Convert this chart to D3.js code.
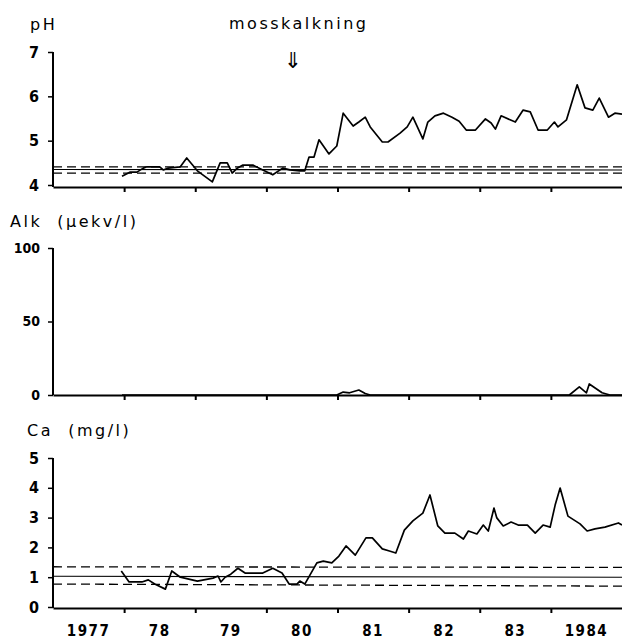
<!DOCTYPE html>
<html><head><meta charset="utf-8">
<script src="https://cdn.jsdelivr.net/npm/d3@7"></script>
<style>body{margin:0;background:#fff}svg{display:block}text{white-space:pre}</style>
</head><body>
<svg id="c" width="622" height="640"></svg>
<script>
// ---- data ----
const yearTicks = [1978, 1979, 1980, 1981, 1982, 1983, 1984];
const yearLabelPos = [1977.5, 1978.5, 1979.5, 1980.5, 1981.5, 1982.5, 1983.5, 1984.5];
const yearLabels = ["1977", "78", "79", "80", "81", "82", "83", "1984"];

const phTicks = [4, 5, 6, 7];
const alkTicks = [0, 50, 100];
const caTicks = [0, 1, 2, 3, 4, 5];

const phDates = [1977.97,1978.08,1978.18,1978.27,1978.32,1978.50,1978.55,1978.62,1978.79,1978.88,
  1979.03,1979.24,1979.35,1979.45,1979.52,1979.59,1979.67,1979.81,1979.95,1980.09,
  1980.23,1980.33,1980.47,1980.54,1980.60,1980.67,1980.74,1980.88,1980.99,1981.08,
  1981.22,1981.30,1981.39,1981.46,1981.63,1981.71,1981.88,1981.98,1982.06,1982.20,
  1982.27,1982.37,1982.49,1982.61,1982.71,1982.81,1982.94,1983.08,1983.16,1983.22,
  1983.30,1983.50,1983.61,1983.71,1983.82,1983.95,1984.05,1984.10,1984.22,1984.37,
  1984.48,1984.59,1984.68,1984.81,1984.90,1985.00];
const phValues = [4.20,4.29,4.29,4.38,4.41,4.41,4.34,4.38,4.41,4.61,
  4.32,4.07,4.50,4.50,4.27,4.38,4.45,4.45,4.34,4.23,
  4.38,4.34,4.32,4.32,4.63,4.63,5.02,4.70,4.88,5.62,
  5.33,5.42,5.53,5.31,4.97,4.97,5.17,5.31,5.53,5.04,
  5.42,5.56,5.62,5.53,5.44,5.24,5.24,5.49,5.40,5.26,
  5.56,5.42,5.69,5.65,5.24,5.24,5.42,5.31,5.47,6.26,
  5.74,5.69,5.96,5.53,5.62,5.60];
const phRefUpper = [4.41, 4.41];
const phRefMid = [4.35, 4.34];
const phRefLower = [4.27, 4.27];

const alkDates = [1977.97,1978.5,1979.0,1979.5,1980.0,1980.5,1980.99,1981.08,1981.17,1981.30,1981.39,1981.46,
  1982.0,1982.5,1983.0,1983.5,1984.0,1984.26,1984.40,1984.50,1984.54,1984.72,1984.83,1985.0];
const alkValues = [0,0,0,0,0,0,0,2.0,1.5,3.4,1.0,0,
  0,0,0,0,0,0,5.5,1.5,7.5,1.5,0,0];

const caDates = [1977.96,1978.07,1978.18,1978.25,1978.34,1978.43,1978.58,1978.67,1978.79,1979.03,
  1979.25,1979.32,1979.36,1979.42,1979.50,1979.60,1979.70,1979.95,1980.09,1980.22,
  1980.32,1980.43,1980.47,1980.54,1980.71,1980.80,1980.92,1981.02,1981.12,1981.25,
  1981.40,1981.49,1981.63,1981.73,1981.82,1981.94,1982.06,1982.20,1982.30,1982.41,
  1982.51,1982.65,1982.77,1982.84,1982.96,1983.05,1983.12,1983.20,1983.24,1983.33,
  1983.44,1983.54,1983.67,1983.78,1983.89,1983.99,1984.06,1984.13,1984.24,1984.41,
  1984.51,1984.62,1984.76,1984.95,1985.00];
const caValues = [1.21,0.84,0.84,0.84,0.91,0.77,0.60,1.21,1.00,0.87,
  0.97,1.04,0.84,1.00,1.10,1.30,1.14,1.14,1.30,1.14,
  0.77,0.77,0.87,0.77,1.48,1.54,1.48,1.71,2.05,1.74,
  2.32,2.32,1.95,1.88,1.81,2.58,2.89,3.15,3.76,2.72,
  2.48,2.48,2.28,2.55,2.45,2.75,2.55,3.32,2.99,2.72,
  2.85,2.75,2.75,2.48,2.75,2.68,3.42,3.99,3.05,2.79,
  2.55,2.62,2.68,2.82,2.75];
const caRefUpper = [1.35, 1.33];
const caRefMid = [1.03, 1.00];
const caRefLower = [0.77, 0.70];
const refDates = [1977, 1985];

// ---- drawing ----
const svg = d3.select("#c");
const x = d3.scaleLinear().domain([1977, 1985]).range([53, 622]);
const numFont = "'DejaVu Sans Condensed','DejaVu Sans',sans-serif";
const txtFont = "'DejaVu Sans',sans-serif";

function panel(cfg) {
  const y = d3.scaleLinear().domain(cfg.domain).range(cfg.range);
  const g = svg.append("g");
  const xa = g.append("g").attr("transform", `translate(0,${cfg.axisY})`)
    .call(d3.axisBottom(x).tickValues(yearTicks).tickSize(5).tickFormat("").tickSizeOuter(0));
  xa.select(".domain").attr("stroke", "#000").attr("stroke-width", 2);
  xa.selectAll(".tick line").attr("stroke", "#000").attr("stroke-width", 2);
  const ya = g.append("g").attr("transform", `translate(53,0)`)
    .call(d3.axisLeft(y).tickValues(cfg.ticks).tickSize(5).tickSizeOuter(0)
      .tickPadding(cfg.pad).tickFormat(d3.format("d")));
  ya.select(".domain").attr("stroke", "#000").attr("stroke-width", 2)
    .attr("d", `M0,${cfg.axisY}V${cfg.range[1]}`);
  ya.selectAll(".tick line").attr("stroke", "#000").attr("stroke-width", 1.5);
  ya.selectAll(".tick text").attr("font-family", numFont).attr("font-size", cfg.fs)
    .attr("font-weight", "bold").attr("fill", "#000");
  if (cfg.refs) {
    cfg.refs.forEach(r => {
      g.append("path")
        .datum(refDates.map((d, i) => [d, r.v[i]]))
        .attr("d", d3.line().x(d => x(d[0])).y(d => y(d[1])))
        .attr("fill", "none").attr("stroke", "#000")
        .attr("stroke-width", r.dash ? 1.3 : 1.1)
        .attr("stroke-dasharray", r.dash ? "9,5" : null);
    });
  }
  g.append("path")
    .datum(cfg.dates.map((d, i) => [d, cfg.values[i]]))
    .attr("d", d3.line().x(d => x(d[0])).y(d => y(d[1])))
    .attr("fill", "none").attr("stroke", "#000").attr("stroke-width", 1.7)
    .attr("stroke-linejoin", "round");
  g.append("text").attr("x", cfg.tx).attr("y", cfg.ty).text(cfg.title)
    .attr("font-family", txtFont).attr("font-size", 16).attr("letter-spacing", 2.5);
  return y;
}

panel({domain: [4, 7], range: [185, 52], axisY: 187, ticks: phTicks, pad: 9, fs: 16,
  dates: phDates, values: phValues, title: "pH", tx: 30, ty: 30,
  refs: [{v: phRefUpper, dash: true}, {v: phRefMid, dash: false}, {v: phRefLower, dash: true}]});
panel({domain: [0, 100], range: [395, 248], axisY: 395, ticks: alkTicks, pad: 8, fs: 14,
  dates: alkDates, values: alkValues, title: "Alk  (µekv/l)", tx: 10, ty: 227});
panel({domain: [0, 5], range: [607, 458], axisY: 608, ticks: caTicks, pad: 9, fs: 16,
  dates: caDates, values: caValues, title: "Ca  (mg/l)", tx: 27, ty: 436,
  refs: [{v: caRefUpper, dash: true}, {v: caRefMid, dash: false}, {v: caRefLower, dash: true}]});

svg.append("g").selectAll("text").data(yearLabelPos).join("text")
  .attr("x", d => x(d)).attr("y", 636).attr("text-anchor", "middle")
  .attr("font-family", numFont).attr("font-size", 15).attr("font-weight", "bold")
  .attr("letter-spacing", 1.5)
  .text((d, i) => yearLabels[i]);

svg.append("text").attr("x", 229).attr("y", 29).text("mosskalkning")
  .attr("font-family", txtFont).attr("font-size", 16).attr("letter-spacing", 2.5);
svg.append("text").attr("x", 293).attr("y", 68).attr("text-anchor", "middle").text("⇓")
  .attr("font-family", txtFont).attr("font-size", 22);
</script>
</body></html>
